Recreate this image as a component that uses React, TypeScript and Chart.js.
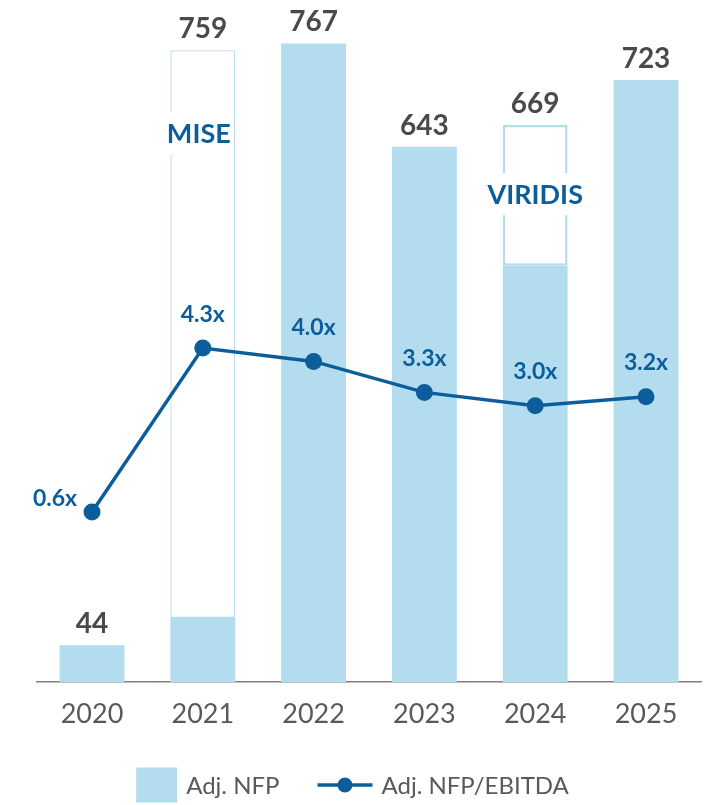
import React, { useEffect, useRef } from "react";
import { Chart, registerables } from "chart.js";
Chart.register(...registerables);

const years = ["2020", "2021", "2022", "2023", "2024", "2025"];
const nfpBase = [44, 77, 767, 643, 500, 723];
const nfpAcquired: any[] = [null, [77, 759], null, null, [500, 669], null];
const nfpTotal = [44, 759, 767, 643, 669, 723];
const leverage = [0.6, 4.3, 4.0, 3.3, 3.0, 3.2];
const leverageLabels = ["0.6x", "4.3x", "4.0x", "3.3x", "3.0x", "3.2x"];
const acquisitionIndex = [1, 4];
const acquisitionNames = ["MISE", "VIRIDIS"];
const acquisitionLevel = [659, 586];
const legendLabels = ["Adj. NFP", "Adj. NFP/EBITDA"];

const BAR = "#b3dcef";
const BLUE = "#0b5e9b";
const GREY = "#4a4a4a";
const TICK = "#595959";
const FONT = "Lato";

const labelsPlugin = {
  id: "customLabels",
  afterDatasetsDraw(chart: any) {
    const ctx = chart.ctx;
    const x = chart.scales.x;
    const y = chart.scales.y;
    const y2 = chart.scales.y2;
    ctx.save();
    acquisitionIndex.forEach((idx, k) => {
      const cx = x.getPixelForValue(idx) - (k === 0 ? 4 : 0);
      const cy = y.getPixelForValue(acquisitionLevel[k]);
      ctx.font = `bold 27px ${FONT}`;
      const w = ctx.measureText(acquisitionNames[k]).width;
      ctx.fillStyle = "#ffffff";
      ctx.fillRect(cx - w / 2 - 3, cy - 21, w + 6, 42);
      ctx.fillStyle = BLUE;
      ctx.textAlign = "center";
      ctx.textBaseline = "middle";
      ctx.fillText(acquisitionNames[k], cx, cy + 1);
    });
    ctx.font = `bold 28px ${FONT}`;
    ctx.fillStyle = GREY;
    ctx.textAlign = "center";
    ctx.textBaseline = "alphabetic";
    nfpTotal.forEach((v, i) => {
      ctx.fillText(String(v), x.getPixelForValue(i), y.getPixelForValue(v) - 12);
    });
    ctx.font = `bold 23px ${FONT}`;
    ctx.fillStyle = BLUE;
    ctx.textBaseline = "middle";
    leverage.forEach((v, i) => {
      const px = x.getPixelForValue(i);
      const py = y2.getPixelForValue(v);
      if (i === 0) {
        ctx.fillText(leverageLabels[i], px - 37, py - 13);
      } else {
        ctx.fillText(leverageLabels[i], px, py - 34);
      }
    });
    ctx.restore();
  },
  afterDraw(chart: any) {
    const ctx = chart.ctx;
    ctx.save();
    ctx.font = `24px ${FONT}`;
    const t1 = ctx.measureText(legendLabels[0]).width;
    const t2 = ctx.measureText(legendLabels[1]).width;
    const boxW = 41, boxH = 35, gap = 9, between = 38, lineW = 55;
    const total = boxW + gap + t1 + between + lineW + gap + t2;
    let sx = chart.width / 2 - total / 2 - 3;
    const cy = 785;
    ctx.fillStyle = BAR;
    ctx.fillRect(sx, cy - boxH / 2, boxW, boxH);
    sx += boxW + gap;
    ctx.fillStyle = TICK;
    ctx.textAlign = "left";
    ctx.textBaseline = "middle";
    ctx.fillText(legendLabels[0], sx, cy + 1);
    sx += t1 + between;
    ctx.strokeStyle = BLUE;
    ctx.lineWidth = 3.5;
    ctx.beginPath();
    ctx.moveTo(sx, cy);
    ctx.lineTo(sx + lineW, cy);
    ctx.stroke();
    ctx.fillStyle = BLUE;
    ctx.beginPath();
    ctx.arc(sx + lineW / 2, cy, 7.5, 0, Math.PI * 2);
    ctx.fill();
    sx += lineW + gap;
    ctx.fillStyle = TICK;
    ctx.fillText(legendLabels[1], sx, cy + 1);
    ctx.restore();
  },
};

export default function App() {
  const ref = useRef<HTMLCanvasElement>(null);
  useEffect(() => {
    if (!ref.current) return;
    const chart = new Chart(ref.current, {
      type: "bar",
      data: {
        labels: years,
        datasets: [
          {
            type: "line",
            label: legendLabels[1],
            data: leverage,
            yAxisID: "y2",
            borderColor: BLUE,
            backgroundColor: BLUE,
            borderWidth: 3.5,
            pointRadius: 8.5,
            pointBackgroundColor: BLUE,
            pointBorderWidth: 0,
            tension: 0,
            order: 0,
          } as any,
          {
            type: "bar",
            label: "acquired",
            data: nfpAcquired,
            yAxisID: "y",
            backgroundColor: "#ffffff",
            borderColor: BAR,
            borderWidth: [0, 1.3, 0, 0, 2.5, 0],
            borderSkipped: false,
            grouped: false,
            categoryPercentage: 1,
            barPercentage: 0.585,
            order: 2,
          } as any,
          {
            type: "bar",
            label: legendLabels[0],
            data: nfpBase,
            yAxisID: "y",
            backgroundColor: BAR,
            borderWidth: 0,
            grouped: false,
            categoryPercentage: 1,
            barPercentage: 0.585,
            order: 1,
          } as any,
        ],
      },
      options: {
        animation: false,
        responsive: true,
        maintainAspectRatio: false,
        layout: { padding: { left: 36.6, right: 9.6, top: 16, bottom: 0 } },
        plugins: { legend: { display: false }, tooltip: { enabled: false } },
        scales: {
          x: {
            grid: { display: false, drawTicks: false },
            border: { display: true, color: "#808080", width: 1.5 },
            ticks: { color: TICK, font: { family: FONT, size: 27 }, padding: 16 },
            afterFit: (scale: any) => {
              scale.height = 123;
            },
          },
          y: { display: false, min: 0, max: 800 },
          y2: { display: false, min: -3.24, max: 11.8 },
        },
      } as any,
      plugins: [labelsPlugin],
    });
    return () => chart.destroy();
  }, []);
  return (
    <div style={{ position: "absolute", left: 0, top: 0, width: 711, height: 805 }}>
      <canvas ref={ref} />
    </div>
  );
}
